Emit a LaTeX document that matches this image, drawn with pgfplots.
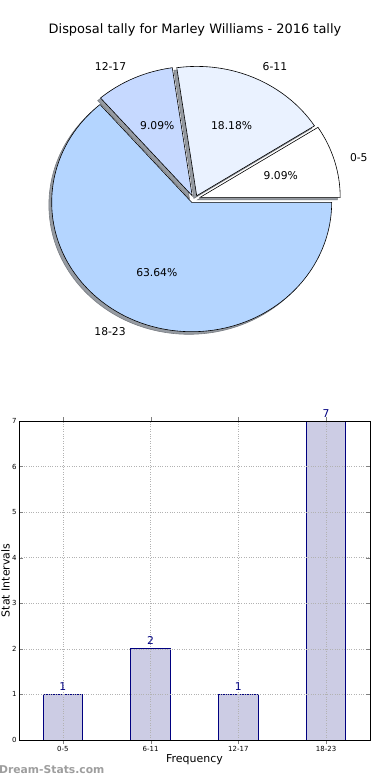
\documentclass[border=0pt]{standalone}
\usepackage{pgfplots}
\pgfplotsset{compat=1.18}
\usepackage{fontspec}
\setmainfont{DejaVu Sans}
\definecolor{cA}{RGB}{255,255,255}
\definecolor{cB}{RGB}{234,242,255}
\definecolor{cC}{RGB}{198,217,255}
\definecolor{cD}{RGB}{180,213,255}
\definecolor{barfill}{RGB}{204,204,228}
\definecolor{navyc}{RGB}{0,0,128}
\definecolor{shadowc}{RGB}{150,155,162}
\newcommand{\piewedge}[5]{% cx cy start end style
  \path[#5] (axis cs:#1,#2) -- ++(#3:140bp and 129.4bp) arc[start angle=#3, end angle=#4, x radius=140bp, y radius=129.4bp] -- cycle;}
\begin{document}
\begin{tikzpicture}
\useasboundingbox (0,0) rectangle (390bp,780bp);
% pie data (counts)
\def\vA{1}\def\vB{2}\def\vC{1}\def\vD{7}
\pgfmathsetmacro\tot{\vA+\vB+\vC+\vD}
\pgfmathsetmacro\aA{360*\vA/\tot}
\pgfmathsetmacro\aB{\aA+360*\vB/\tot}
\pgfmathsetmacro\aC{\aB+360*\vC/\tot}
\begin{axis}[at={(0,0)}, anchor=south west, scale only axis, width=390bp, height=780bp,
  xmin=0, xmax=390, ymin=0, ymax=780, hide axis, clip=false]
% shadows
\piewedge{197.4}{580.1}{0}{\aA}{fill=shadowc, draw=shadowc!80!black, line width=0.6pt}
\piewedge{193.9}{581.6}{\aA}{\aB}{fill=shadowc, draw=shadowc!80!black, line width=0.6pt}
\piewedge{189.4}{581.6}{\aB}{\aC}{fill=shadowc, draw=shadowc!80!black, line width=0.6pt}
\piewedge{188.9}{575.1}{\aC}{360}{fill=shadowc, draw=shadowc!80!black, line width=0.6pt}
% wedges
\piewedge{200.2}{582.7}{0}{\aA}{fill=cA, draw=black, line width=0.6pt}
\piewedge{196.7}{584.2}{\aA}{\aB}{fill=cB, draw=black, line width=0.6pt}
\piewedge{192.2}{584.2}{\aB}{\aC}{fill=cC, draw=black, line width=0.6pt}
\piewedge{191.7}{577.7}{\aC}{360}{fill=cD, draw=black, line width=0.6pt}
% labels
\node[font=\fontsize{10.8}{12}\selectfont, anchor=west] at (axis cs:346.5,622.8) {0-5};
\node[font=\fontsize{10.8}{12}\selectfont, anchor=west] at (axis cs:259.2,713.7) {6-11};
\node[font=\fontsize{10.8}{12}\selectfont, anchor=east] at (axis cs:129.7,713.7) {12-17};
\node[font=\fontsize{10.8}{12}\selectfont, anchor=east] at (axis cs:129.2,448.2) {18-23};
\node[font=\fontsize{10.8}{12}\selectfont] at (axis cs:280.8,604.6) {9.09\%};
\node[font=\fontsize{10.8}{12}\selectfont] at (axis cs:231.6,654.8) {18.18\%};
\node[font=\fontsize{10.8}{12}\selectfont] at (axis cs:157.3,654.8) {9.09\%};
\node[font=\fontsize{10.8}{12}\selectfont] at (axis cs:156.8,507.1) {63.64\%};
\node[font=\fontsize{13}{15}\selectfont] at (axis cs:195,750) {Disposal tally for Marley Williams - 2016 tally};
\node[font=\fontsize{10.8}{12}\selectfont\bfseries, text=black!38, anchor=west, inner sep=0pt] at (axis cs:-1,10) {Dream-Stats.com};
\end{axis}
\begin{axis}[at={(19bp,40bp)}, anchor=south west, scale only axis, width=351bp, height=319bp,
  xmin=-0.5, xmax=3.5, ymin=0, ymax=7,
  /pgf/number format/assume math mode=true,
  xtick={0,1,2,3}, xticklabels={0-5,6-11,12-17,18-23}, ytick={0,1,...,7},
  tick align=inside, tick pos=both, major tick length=4bp,
  grid=major, grid style={dotted, black!30, line width=0.6pt},
  axis on top, axis line style={line width=0.7pt},
  ticklabel style={font=\fontsize{7}{8}\selectfont},
  xticklabel style={yshift=1bp}, yticklabel style={xshift=1bp},
  xlabel={Frequency}, ylabel={Stat Intervals},
  label style={font=\fontsize{11}{13}\selectfont},
  xlabel style={at={(axis description cs:0.5,-0.0627)}, anchor=center},
  ylabel style={at={(axis description cs:-0.038,0.5)}, anchor=center},
  clip=false, ybar, bar width=0.45,
  nodes near coords,
  every node near coord/.append style={text=navyc, font=\fontsize{10.8}{12}\selectfont, rotate=0, anchor=south, inner sep=2bp, yshift=1.5bp}]
\addplot[fill=barfill, draw=navyc, line width=0.8pt] coordinates {(0,1) (1,2) (2,1) (3,7)};
\end{axis}
\end{tikzpicture}
\end{document}
